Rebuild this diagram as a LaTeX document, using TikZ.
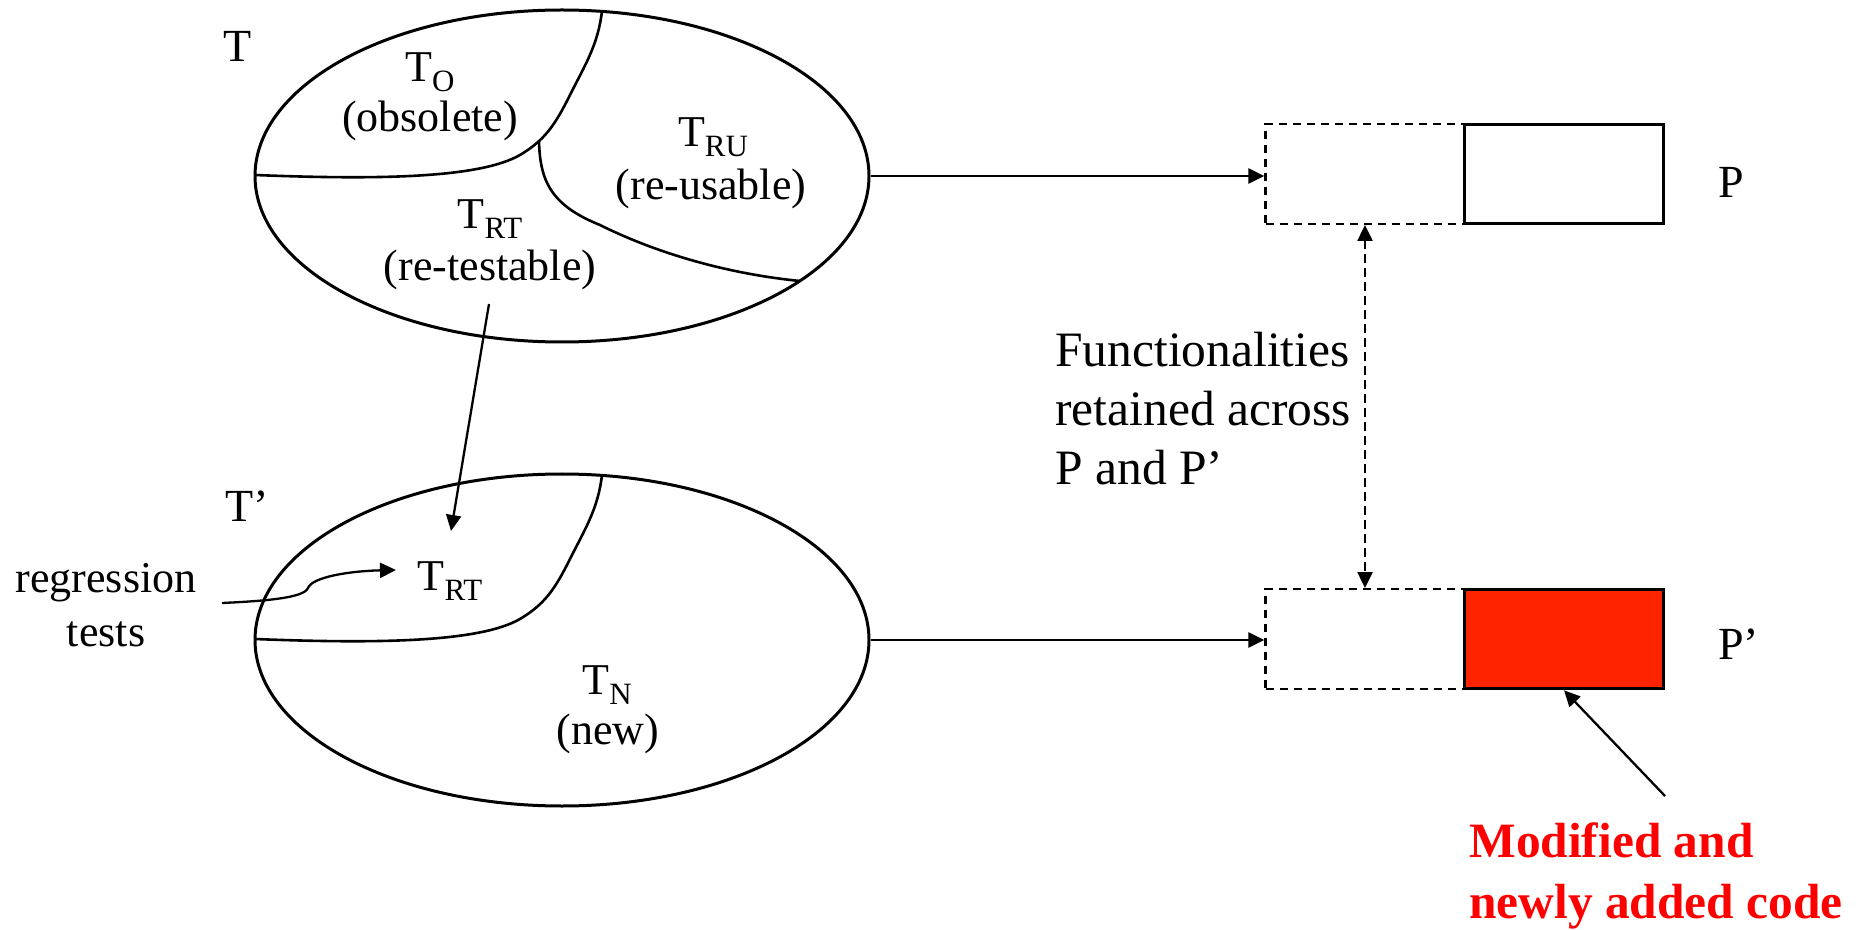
\documentclass[tikz,border=0pt]{standalone}
\usepackage{fontspec}
\setmainfont{Liberation Serif}
\usetikzlibrary{shapes.geometric,arrows.meta}
\definecolor{boxred}{RGB}{255,36,0}
\definecolor{txtred}{RGB}{255,0,0}
\newcommand{\lsub}[1]{\raisebox{-5pt}{\fontsize{15.5}{16}\selectfont #1}}
\begin{document}
\begin{tikzpicture}[x=0.5pt,y=-0.5pt,
  setshape/.style={ellipse, draw, line width=1.5pt, minimum width=307pt, minimum height=166pt, inner sep=0pt},
  intext/.style={font=\fontsize{22}{26}\selectfont, anchor=base, inner sep=0pt},
  lbl/.style={font=\fontsize{23}{27}\selectfont, anchor=base west, inner sep=0pt},
  functext/.style={font=\fontsize{24.75}{29}\selectfont, anchor=base west, inner sep=0pt},
  redtext/.style={font=\fontsize{24.7}{30}\selectfont\bfseries, text=txtred, anchor=base west, inner sep=0pt},
  divider/.style={line width=1.3pt},
  tip/.style={},
  conn/.style={line width=1.15pt, -{Triangle[length=8pt,width=7.5pt]}},
  dashbox/.style={draw, dash pattern=on 4.2pt off 2.8pt, line width=1.15pt, minimum width=99.5pt, minimum height=49.8pt, inner sep=0pt},
  solidbox/.style={draw, line width=1.5pt, minimum width=99.5pt, minimum height=49.8pt, inner sep=0pt},
]
\useasboundingbox (0,0) rectangle (1858,930);

% sets
\node[setshape] (T) at (562,176) {};
\node[setshape] (T2) at (562,640) {};

% dividers in T
\draw[divider] (602,11) .. controls (598,45) and (585,65) .. (570,95) .. controls (555,125) and (545,140) .. (520,155) .. controls (480,178) and (380,180) .. (255,175);
\draw[divider] (539,141) .. controls (540,180) and (550,205) .. (600,225) .. controls (650,250) and (720,273) .. (800,281);
% divider in T'
\draw[divider] (602,475) .. controls (598,509) and (585,529) .. (570,559) .. controls (555,589) and (545,604) .. (520,619) .. controls (480,642) and (380,644) .. (255,639);

% labels of sets
\node[lbl] (lT) at (223,62) {T};
\node[lbl] (lT2) at (225,521) {T’};

% texts in T
\node[intext] (to) at (430,82) {T\lsub{O}};
\node[intext] (tob) at (430,132) {(obsolete)};
\node[intext] (tru) at (713,147) {T\lsub{RU}};
\node[intext] (trub) at (711,200) {(re-usable)};
\node[intext] (trt) at (490,229) {T\lsub{RT}};
\node[intext] (trtb) at (490,281) {(re-testable)};

% texts in T'
\node[intext] (trt2) at (450,590) {T\lsub{RT}};
\node[intext] (tn) at (607,694) {T\lsub{N}};
\node[intext] (tnb) at (608,744) {(new)};

% regression tests
\node[intext] (reg) at (106,592) {regression};
\node[intext] (regb) at (106,646) {tests};

% programs
\node[dashbox] (pd) at (1365,174) {};
\node[solidbox] (ps) at (1564,174) {};
\node[dashbox] (pd2) at (1365,639) {};
\node[solidbox, fill=boxred] (ps2) at (1564,639) {};
\node[lbl] (lP) at (1718,198) {P};
\node[lbl] (lP2) at (1718,659) {P’};

% functionalities text
\node[functext] (f1) at (1055,367) {Functionalities};
\node[functext] (f2) at (1055,426) {retained across};
\node[functext] (f3) at (1055,485) {P and P’};

% red note
\node[redtext] (m1) at (1469,857) {Modified and};
\node[redtext] (m2) at (1469,918) {newly added code};

% connectors
\draw[conn] (T.east) -- (T.east -| pd.west);
\draw[conn] (T2.east) -- (T2.east -| pd2.west);
\draw[line width=1.15pt, dash pattern=on 4.2pt off 2.8pt, {Triangle[length=8pt,width=7.5pt]}-{Triangle[length=8pt,width=7.5pt]}] (pd.south) -- (pd2.north);

\coordinate (a1) at (489,304);
\coordinate (a2) at (451,531);
\draw[conn] (a1) -- (a2);

\coordinate (rs) at (222,603);
\coordinate (re) at (396,570);
\draw[conn] (rs) .. controls (265,601) and (304,598) .. (308,588) .. controls (312,577) and (350,571) .. (re);

\coordinate (ms) at (1665,796);
\draw[conn] (ms) -- (ps2.south);
\end{tikzpicture}
\end{document}
